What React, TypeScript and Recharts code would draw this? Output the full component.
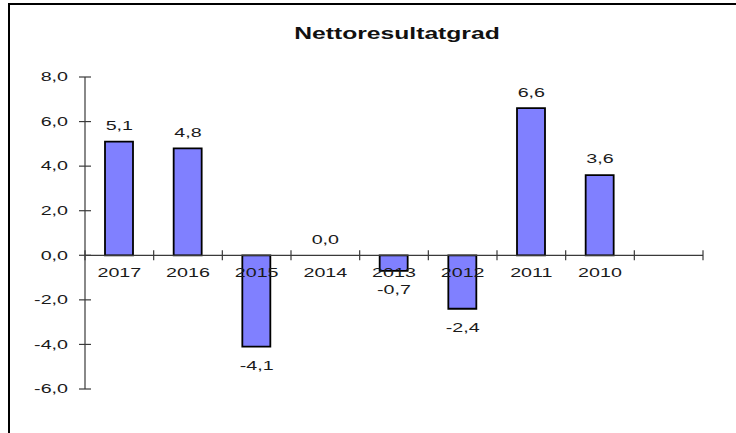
import React from 'react';
import { ComposedChart, Bar, Line, XAxis, YAxis, ReferenceLine, LabelList } from 'recharts';

const years = ['2017', '2016', '2015', '2014', '2013', '2012', '2011', '2010', ''];
const values: (number | null)[] = [5.1, 4.8, -4.1, 0.0, -0.7, -2.4, 6.6, 3.6, null];
const yTicks = [-6, -4, -2, 0, 2, 4, 6, 8];
const title = 'Nettoresultatgrad';

const data = years.map((y, i) => ({ year: y, value: values[i] }));

const W = 736;
const H = 433;
const PLOT_LEFT = 85;
const PLOT_RIGHT = 703;
const PLOT_TOP = 77;
const PLOT_BOTTOM = 389;
const X_AXIS_H = 20;
const Y_MIN = -6;
const Y_MAX = 8;
const ZERO_Y = PLOT_TOP + ((PLOT_BOTTOM - PLOT_TOP) * Y_MAX) / (Y_MAX - Y_MIN);
const BAND = (PLOT_RIGHT - PLOT_LEFT) / years.length;

const AXIS_COLOR = '#3a3a3a';
const TEXT_COLOR = '#1a1a1a';
const FONT = '"Liberation Sans", Arial, sans-serif';
const SX = 1.48;
const FS = 13.3;

const fmt = (v: number) => v.toFixed(1).replace('.', ',');

const YTick = (props: any) => {
  const { x, y, payload } = props;
  return (
    <g>
      <line x1={x - 6} x2={x + 6} y1={y} y2={y} stroke={AXIS_COLOR} strokeWidth={1.2} />
      <text
        transform={`translate(${x - 17},${y}) scale(${SX},1)`}
        textAnchor="end"
        dominantBaseline="central"
        fontFamily={FONT}
        fontSize={FS}
        fill={TEXT_COLOR}
      >
        {fmt(payload.value)}
      </text>
    </g>
  );
};

const XTick = (props: any) => {
  const { x, payload, index } = props;
  const half = BAND / 2;
  const last = index === years.length - 1;
  return (
    <g>
      <line x1={x - half} x2={x - half} y1={ZERO_Y - 5} y2={ZERO_Y + 5} stroke={AXIS_COLOR} strokeWidth={1.2} />
      {last && (
        <line x1={x + half} x2={x + half} y1={ZERO_Y - 5} y2={ZERO_Y + 5} stroke={AXIS_COLOR} strokeWidth={1.2} />
      )}
      {payload.value !== '' && (
        <text
          transform={`translate(${x},${ZERO_Y + 17}) scale(${SX},1)`}
          textAnchor="middle"
          dominantBaseline="central"
          fontFamily={FONT}
          fontSize={FS}
          fill={TEXT_COLOR}
        >
          {payload.value}
        </text>
      )}
    </g>
  );
};

const ValueLabel = (props: any) => {
  const { x, y, value } = props;
  if (value === null || value === undefined || x == null || y == null) return null;
  const ly = value >= 0 ? y - 16 : y + 19;
  return (
    <text
      transform={`translate(${x},${ly}) scale(${SX},1)`}
      textAnchor="middle"
      dominantBaseline="central"
      fontFamily={FONT}
      fontSize={FS}
      fill={TEXT_COLOR}
    >
      {fmt(value)}
    </text>
  );
};

export default function App() {
  return (
    <div style={{ position: 'fixed', left: 0, top: 0, width: W, height: H, background: '#fff', overflow: 'hidden' }}>
      <div
        style={{
          position: 'absolute',
          left: 8,
          top: 3,
          width: W,
          height: H,
          borderTop: '2px solid #000',
          borderLeft: '2px solid #000',
          boxSizing: 'border-box',
        }}
      />
      <div
        style={{
          position: 'absolute',
          left: 397,
          top: 34,
          transform: 'translate(-50%, -50%) scaleX(1.45)',
          fontFamily: FONT,
          fontWeight: 'bold',
          fontSize: 17,
          color: '#111',
          whiteSpace: 'nowrap',
        }}
      >
        {title}
      </div>
      <div style={{ position: 'absolute', left: 0, top: 0 }}>
        <ComposedChart
          width={W}
          height={H}
          data={data}
          margin={{ top: PLOT_TOP, right: W - PLOT_RIGHT, bottom: H - PLOT_BOTTOM - X_AXIS_H, left: 0 }}
        >
          <XAxis
            dataKey="year"
            type="category"
            height={X_AXIS_H}
            axisLine={false}
            tickLine={false}
            tick={<XTick />}
            interval={0}
          />
          <YAxis
            width={PLOT_LEFT}
            domain={[Y_MIN, Y_MAX]}
            ticks={yTicks}
            type="number"
            allowDataOverflow
            axisLine={{ stroke: AXIS_COLOR, strokeWidth: 1.2 }}
            tickLine={false}
            tickSize={0}
            tickMargin={0}
            tick={<YTick />}
            interval={0}
          />
          <Bar
            dataKey="value"
            fill="#8080FF"
            stroke="#000"
            strokeWidth={1.8}
            barSize={28}
            isAnimationActive={false}
          />
          <ReferenceLine y={0} stroke={AXIS_COLOR} strokeWidth={1.2} />
          <Line
            dataKey="value"
            stroke="none"
            dot={false}
            activeDot={false}
            legendType="none"
            isAnimationActive={false}
          >
            <LabelList dataKey="value" content={<ValueLabel />} />
          </Line>
        </ComposedChart>
      </div>
    </div>
  );
}
